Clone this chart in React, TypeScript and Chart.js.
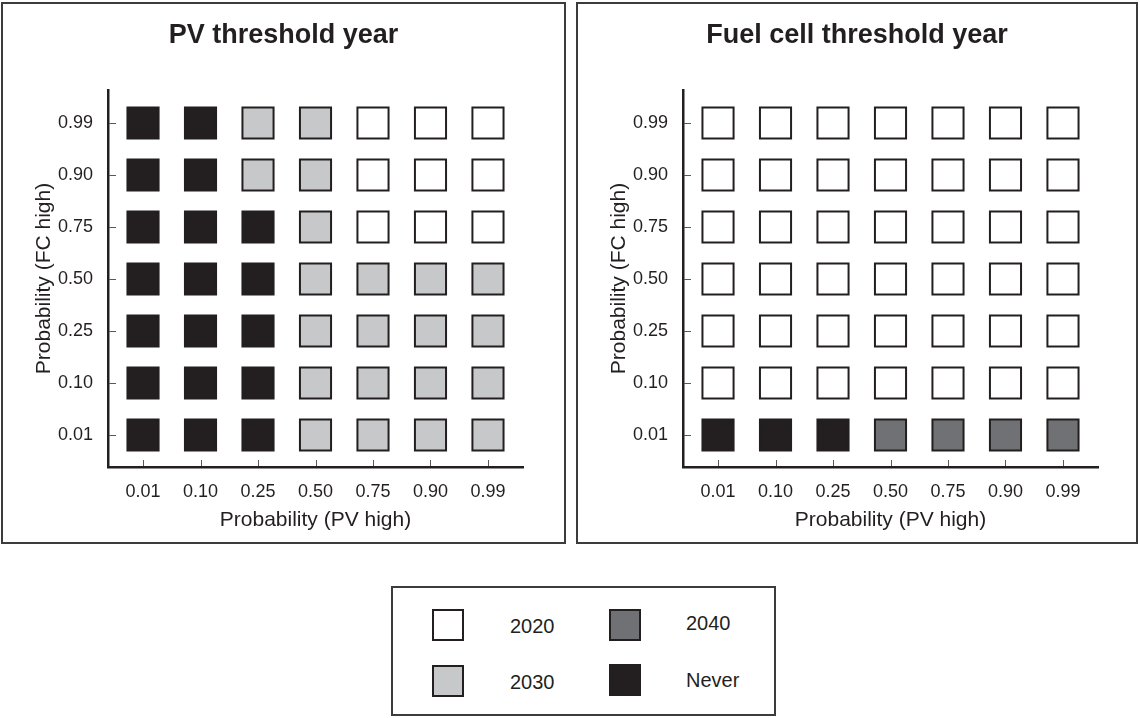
import React, { useEffect, useRef } from "react";
import { Chart, registerables } from "chart.js";

Chart.register(...registerables);

// Tick labels (both axes use the same probability levels)
const probLabels = ["0.01", "0.10", "0.25", "0.50", "0.75", "0.90", "0.99"];
// Threshold-year categories
const yearCategories = ["2020", "2030", "2040", "Never"];

// PV threshold year: rows = FC high (0.01 ... 0.99), columns = PV high (0.01 ... 0.99)
const pvRow001 = ["Never", "Never", "Never", "2030", "2030", "2030", "2030"];
const pvRow010 = ["Never", "Never", "Never", "2030", "2030", "2030", "2030"];
const pvRow025 = ["Never", "Never", "Never", "2030", "2030", "2030", "2030"];
const pvRow050 = ["Never", "Never", "Never", "2030", "2030", "2030", "2030"];
const pvRow075 = ["Never", "Never", "Never", "2030", "2020", "2020", "2020"];
const pvRow090 = ["Never", "Never", "2030", "2030", "2020", "2020", "2020"];
const pvRow099 = ["Never", "Never", "2030", "2030", "2020", "2020", "2020"];
const pvGrid = [pvRow001, pvRow010, pvRow025, pvRow050, pvRow075, pvRow090, pvRow099];

// Fuel cell threshold year
const fcRow001 = ["Never", "Never", "Never", "2040", "2040", "2040", "2040"];
const fcRow010 = ["2020", "2020", "2020", "2020", "2020", "2020", "2020"];
const fcRow025 = ["2020", "2020", "2020", "2020", "2020", "2020", "2020"];
const fcRow050 = ["2020", "2020", "2020", "2020", "2020", "2020", "2020"];
const fcRow075 = ["2020", "2020", "2020", "2020", "2020", "2020", "2020"];
const fcRow090 = ["2020", "2020", "2020", "2020", "2020", "2020", "2020"];
const fcRow099 = ["2020", "2020", "2020", "2020", "2020", "2020", "2020"];
const fcGrid = [fcRow001, fcRow010, fcRow025, fcRow050, fcRow075, fcRow090, fcRow099];

const fillColors: Record<string, string> = {
  "2020": "#ffffff",
  "2030": "#c7c8ca",
  "2040": "#707174",
  Never: "#231f20",
};
const INK = "#231f20";
const FONT = "'Liberation Sans', Arial, Helvetica, sans-serif";

const innerTicks = {
  id: "innerTicks",
  afterDraw(chart: any) {
    const { ctx, chartArea, scales } = chart;
    ctx.save();
    ctx.strokeStyle = "#58585a";
    ctx.lineWidth = 1;
    ctx.beginPath();
    scales.x.ticks.forEach((t: any) => {
      const px = Math.round(scales.x.getPixelForValue(t.value)) + 0.5;
      ctx.moveTo(px, chartArea.bottom - 1);
      ctx.lineTo(px, chartArea.bottom - 7);
    });
    scales.y.ticks.forEach((t: any) => {
      const py = Math.round(scales.y.getPixelForValue(t.value)) + 0.5;
      ctx.moveTo(chartArea.left + 1, py);
      ctx.lineTo(chartArea.left + 8, py);
    });
    ctx.stroke();
    ctx.restore();
  },
};

function buildDatasets(grid: string[][]) {
  return yearCategories.map((cat) => {
    const pts: { x: number; y: number }[] = [];
    grid.forEach((row, r) =>
      row.forEach((v, c) => {
        if (v === cat) pts.push({ x: c, y: r });
      })
    );
    return {
      label: cat,
      data: pts,
      xAxisID: "x",
      yAxisID: "y",
      pointStyle: "rect",
      pointRadius: 22,
      pointHoverRadius: 22,
      backgroundColor: fillColors[cat],
      borderColor: INK,
      pointBorderWidth: 2,
      pointHoverBorderWidth: 2,
      showLine: false,
    };
  });
}

function GridChart(props: {
  title: string;
  grid: string[][];
  width: number;
  height: number;
  rightGap: number;
}) {
  const ref = useRef<HTMLCanvasElement | null>(null);
  useEffect(() => {
    if (!ref.current) return;
    const tickFont = { family: FONT, size: 18 };
    const chart = new Chart(ref.current, {
      type: "scatter",
      data: { datasets: buildDatasets(props.grid) as any },
      options: {
        animation: false,
        responsive: false,
        devicePixelRatio: 1,
        events: [],
        layout: { padding: 0 },
        plugins: {
          legend: { display: false },
          tooltip: { enabled: false },
          title: {
            display: true,
            text: props.title,
            color: INK,
            font: { family: FONT, size: 27, weight: "bold" },
            padding: { top: 15, bottom: 38.6 },
          },
        },
        scales: {
          x: {
            type: "linear",
            position: "bottom",
            min: -0.609,
            max: 6.609,
            afterBuildTicks: (axis: any) => {
              axis.ticks = probLabels.map((_, i) => ({ value: i }));
            },
            afterFit: (s: any) => {
              s.height = 75;
            },
            ticks: {
              callback: (v: any) => probLabels[Math.round(Number(v))],
              font: tickFont,
              color: INK,
              padding: 14,
              maxRotation: 0,
              autoSkip: false,
            },
            grid: { display: false, drawTicks: false },
            border: { display: true, color: INK, width: 2.5 },
            title: {
              display: true,
              text: "Probability (PV high)",
              color: INK,
              font: { family: FONT, size: 21 },
              padding: { top: 0, bottom: 9 },
            },
          },
          y: {
            type: "linear",
            position: "left",
            min: -0.615,
            max: 6.635,
            afterBuildTicks: (axis: any) => {
              axis.ticks = probLabels.map((_, i) => ({ value: i }));
            },
            afterFit: (s: any) => {
              s.width = 105;
            },
            ticks: {
              callback: (v: any) => probLabels[Math.round(Number(v))],
              font: tickFont,
              color: INK,
              padding: 15,
              autoSkip: false,
            },
            grid: { display: false, drawTicks: false },
            border: { display: true, color: INK, width: 2.5 },
            title: {
              display: true,
              text: "Probability (FC high)",
              color: INK,
              font: { family: FONT, size: 21 },
              padding: { top: 29, bottom: 0 },
            },
          },
          // empty spacer axis on the right, keeps the plot area where it is
          yGap: {
            type: "linear",
            position: "right",
            min: 0,
            max: 1,
            afterFit: (s: any) => {
              s.width = props.rightGap;
            },
            ticks: { display: false },
            grid: { display: false, drawTicks: false },
            border: { display: false },
            title: { display: false },
          },
        },
      } as any,
      plugins: [innerTicks],
    });
    return () => chart.destroy();
  }, []);
  return (
    <canvas
      ref={ref}
      width={props.width}
      height={props.height}
      style={{ display: "block", width: props.width, height: props.height }}
    />
  );
}

const panelStyle = (left: number, width: number): React.CSSProperties => ({
  position: "absolute",
  left,
  top: 2,
  width,
  height: 542,
  border: "2px solid #3c3c3e",
  boxSizing: "border-box",
  background: "#fff",
});

function LegendItem(props: { cat: string; sqLeft: number; sqTop: number; textLeft: number; textTop: number }) {
  return (
    <>
      <div
        style={{
          position: "absolute",
          left: props.sqLeft,
          top: props.sqTop,
          width: 32,
          height: 32,
          boxSizing: "border-box",
          border: `2px solid ${INK}`,
          background: fillColors[props.cat],
        }}
      />
      <div
        style={{
          position: "absolute",
          left: props.textLeft,
          top: props.textTop,
          fontFamily: FONT,
          fontSize: 20,
          lineHeight: "24px",
          color: INK,
          whiteSpace: "nowrap",
        }}
      >
        {props.cat}
      </div>
    </>
  );
}

export default function App() {
  return (
    <div
      style={{
        position: "absolute",
        left: 0,
        top: 0,
        width: 1140,
        height: 718,
        background: "#fff",
        fontFamily: FONT,
      }}
    >
      <div style={panelStyle(1, 565)}>
        <GridChart title="PV threshold year" grid={pvGrid} width={561} height={538} rightGap={41} />
      </div>
      <div style={panelStyle(576, 562)}>
        <GridChart title="Fuel cell threshold year" grid={fcGrid} width={558} height={538} rightGap={38} />
      </div>
      <div
        style={{
          position: "absolute",
          left: 391,
          top: 586,
          width: 385,
          height: 130,
          border: "2px solid #3c3c3e",
          boxSizing: "border-box",
        }}
      />
      <LegendItem cat={yearCategories[0]} sqLeft={432} sqTop={609} textLeft={510} textTop={614} />
      <LegendItem cat={yearCategories[1]} sqLeft={432} sqTop={665} textLeft={510} textTop={670} />
      <LegendItem cat={yearCategories[2]} sqLeft={609} sqTop={609} textLeft={686} textTop={611} />
      <LegendItem cat={yearCategories[3]} sqLeft={609} sqTop={664} textLeft={686} textTop={668} />
    </div>
  );
}
